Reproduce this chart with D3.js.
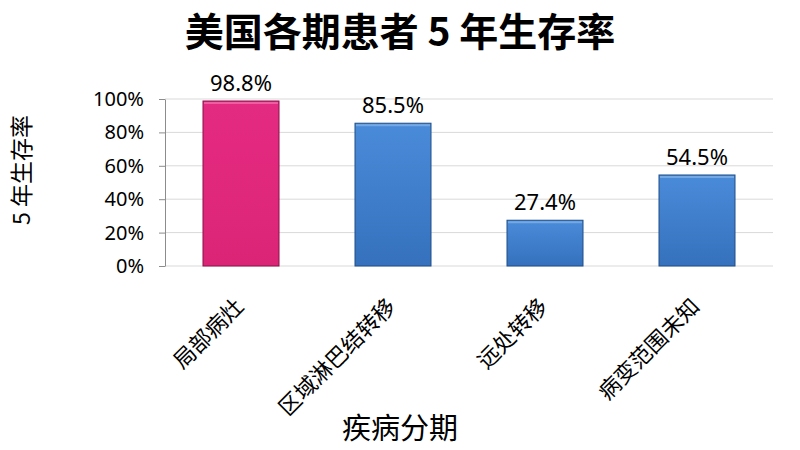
<!DOCTYPE html>
<html>
<head>
<meta charset="utf-8">
<script src="https://cdn.jsdelivr.net/npm/d3@7"></script>
<style>
  body { margin: 0; background: #fff; }
  svg text { font-family: "Noto Sans CJK SC", "Noto Sans", sans-serif; fill: #000; }
</style>
</head>
<body>
<svg id="chart" width="800" height="450"></svg>
<script>
// Data
const categories = ["局部病灶", "区域淋巴结转移", "远处转移", "病变范围未知"];
const survival = [98.8, 85.5, 27.4, 54.5];
const yTicks = [0, 20, 40, 60, 80, 100];
const highlight = [true, false, false, false];

const svg = d3.select("#chart");
const margin = { top: 99, right: 27, bottom: 184, left: 165 };
const W = 800, H = 450;
const plotW = W - margin.left - margin.right;
const plotH = H - margin.top - margin.bottom;

// vertical gradients, lighter at the top like the office 3D bars
const defs = svg.append("defs");
function gradient(id, top, bottom) {
  const g = defs.append("linearGradient").attr("id", id)
    .attr("x1", 0).attr("x2", 0).attr("y1", 0).attr("y2", 1);
  g.append("stop").attr("offset", "0%").attr("stop-color", top);
  g.append("stop").attr("offset", "100%").attr("stop-color", bottom);
}
gradient("pinkGrad", "#e42b82", "#dc2477");
gradient("blueGrad", "#4a8bd9", "#3571bd");

const x = d3.scaleBand().domain(categories).range([0, plotW]).paddingInner(0.5).paddingOuter(0.25);
const y = d3.scaleLinear().domain([0, 100]).range([plotH, 0]);

const g = svg.append("g").attr("transform", `translate(${margin.left},${margin.top})`);

// Gridlines
g.selectAll(".grid").data(yTicks).enter().append("line")
  .attr("x1", 0).attr("x2", plotW)
  .attr("y1", d => y(d)).attr("y2", d => y(d))
  .attr("stroke", "#d9d9d9").attr("stroke-width", 1);

// Y axis
const yAxis = g.append("g").call(
  d3.axisLeft(y).tickValues(yTicks).tickSize(6).tickSizeOuter(0).tickPadding(15).tickFormat(d => d + "%")
);
yAxis.select(".domain").attr("stroke", "#8c8c8c");
yAxis.selectAll(".tick line").attr("stroke", "#8c8c8c");
yAxis.selectAll(".tick text").attr("font-size", 20).attr("fill", "#000")
  .style("font-family", "\"Noto Sans\", sans-serif");

// Bars
const data = categories.map((c, i) => ({ cat: c, v: survival[i], hi: highlight[i] }));
g.selectAll(".bar").data(data).enter().append("rect")
  .attr("x", d => x(d.cat))
  .attr("y", d => y(d.v))
  .attr("width", x.bandwidth())
  .attr("height", d => plotH - y(d.v))
  .attr("fill", d => d.hi ? "url(#pinkGrad)" : "url(#blueGrad)")
  .attr("stroke", d => d.hi ? "#8a1048" : "#1f4f86")
  .attr("stroke-width", 1);

// thin light strip at the top edge
g.selectAll(".shine").data(data).enter().append("rect")
  .attr("x", d => x(d.cat) + 1)
  .attr("y", d => y(d.v) + 1)
  .attr("width", x.bandwidth() - 2)
  .attr("height", 2)
  .attr("fill", d => d.hi ? "#f06aa6" : "#7fb0e8")
  .attr("opacity", 0.8);

// Value labels
g.selectAll(".val").data(data).enter().append("text")
  .attr("x", d => x(d.cat) + x.bandwidth() / 2)
  .attr("y", d => y(d.v) - 10)
  .attr("text-anchor", "middle")
  .attr("font-size", 22)
  .style("font-family", "\"Noto Sans\", sans-serif")
  .text(d => d.v.toFixed(1) + "%");

// Category labels, rotated
g.selectAll(".cat").data(categories).enter().append("text")
  .attr("text-anchor", "end")
  .attr("font-size", 22)
  .attr("transform", d => `translate(${x(d) + x.bandwidth() / 2 + 4},${plotH + 42}) rotate(-45)`)
  .text(d => d);

// Title
svg.append("text")
  .attr("x", 400).attr("y", 46)
  .attr("text-anchor", "middle")
  .attr("font-size", 39).attr("font-weight", "bold")
  .text("美国各期患者 5 年生存率");

// Y axis title
svg.append("text")
  .attr("transform", "translate(30,170) rotate(-90)")
  .attr("text-anchor", "middle")
  .attr("font-size", 23)
  .text("5 年生存率");

// X axis title
svg.append("text")
  .attr("x", 400).attr("y", 439)
  .attr("text-anchor", "middle")
  .attr("font-size", 29)
  .text("疾病分期");
</script>
</body>
</html>
